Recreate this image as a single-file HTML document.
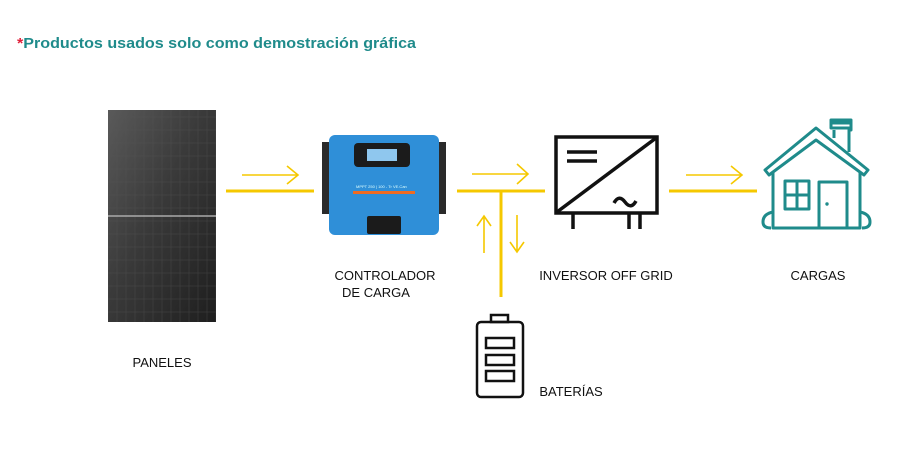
<!DOCTYPE html>
<html><head><meta charset="utf-8"><style>
html,body{margin:0;padding:0;background:#fff;}
svg{display:block;}
text{font-family:"Liberation Sans",sans-serif;}
</style></head><body>
<svg width="901" height="449" viewBox="0 0 901 449" xmlns="http://www.w3.org/2000/svg">
<text x="17" y="48" font-size="15" font-weight="bold" fill="#1f8b8b" textLength="399" lengthAdjust="spacingAndGlyphs"><tspan fill="#e0203a">*</tspan>Productos usados solo como demostración gráfica</text>

<!-- panel -->
<defs>
<linearGradient id="pg" x1="0" y1="0" x2="1" y2="1">
<stop offset="0" stop-color="#5a5a5a"/><stop offset="0.45" stop-color="#3a3a3a"/><stop offset="1" stop-color="#1e1e1e"/>
</linearGradient>
<pattern id="cells" width="9" height="13" patternUnits="userSpaceOnUse"><rect width="9" height="13" fill="none" stroke="#555" stroke-width="0.5"/></pattern>
</defs>
<rect x="108" y="110" width="108" height="212" fill="url(#pg)"/>
<rect x="108" y="110" width="108" height="212" fill="url(#cells)" opacity="0.6"/>
<line x1="108" y1="216" x2="216" y2="216" stroke="#aaa" stroke-width="1.5"/>

<g stroke="#f5c800" stroke-width="3" fill="none">
<line x1="226" y1="191" x2="314" y2="191"/>
<line x1="457" y1="191" x2="545" y2="191"/>
<line x1="669" y1="191" x2="757" y2="191"/>
<line x1="501" y1="191" x2="501" y2="297"/>
</g>
<g stroke="#f5c800" stroke-width="1.6" fill="none">
<path d="M242 175 H298 M287 166 L298 175 L287 184"/>
<path d="M472 174 H528 M517 164 L528 174 L517 184"/>
<path d="M686 175 H742 M731 166 L742 175 L731 184"/>
<path d="M484 253 V216 M477 226 L484 216 L491 226"/>
<path d="M517 215 V252 M510 242 L517 252 L524 242"/>
</g>

<!-- controller -->
<rect x="322" y="142" width="124" height="72" fill="#2a2a2a"/>
<rect x="329" y="135" width="110" height="100" rx="6" fill="#2f8fd8"/>
<rect x="354" y="143" width="56" height="24" rx="4" fill="#1b1b1b"/>
<rect x="367" y="149" width="30" height="12" fill="#8fc7ee"/>
<rect x="353" y="191" width="62" height="3" fill="#ef6b22"/>
<rect x="367" y="216" width="34" height="18" rx="2" fill="#1b1b1b"/>
<text x="356" y="188" font-size="4" fill="#dff">MPPT 250 | 100 - Tr VE.Can</text>

<!-- inverter -->
<g stroke="#111" stroke-width="3.5" fill="none">
<rect x="556" y="137" width="101" height="76"/>
<line x1="557" y1="212" x2="656" y2="138"/>
<line x1="567" y1="152" x2="597" y2="152"/>
<line x1="567" y1="161" x2="597" y2="161"/>
<path d="M614 203 q5 -9 11 -1 q6 8 11 -1"/>
<line x1="573" y1="213" x2="573" y2="229"/>
<line x1="629" y1="213" x2="629" y2="229"/>
<line x1="640" y1="213" x2="640" y2="229"/>
</g>

<!-- house -->
<g stroke="#1f8b8b" stroke-width="3" fill="none" stroke-linejoin="round">
<path d="M765 170 L816 128 L868 170 L864 175 L816 140 L769 175 Z"/>
<path d="M832 123 H851 V130 H849 V152 M834 130 V138"/>
<rect x="831" y="120" width="20" height="8"/>
<path d="M773 172 V228 H860 V172"/>
<rect x="785" y="181" width="24" height="28"/>
<line x1="797" y1="181" x2="797" y2="209"/><line x1="785" y1="195" x2="809" y2="195"/>
<rect x="819" y="182" width="28" height="46"/>
<path d="M773 212 q-10 2 -10 10 q0 6 8 6 M860 212 q10 2 10 10 q0 6 -8 6"/>
</g>
<circle cx="827" cy="204" r="1.7" fill="#1f8b8b"/>

<!-- battery -->
<g stroke="#111" stroke-width="2.5" fill="none">
<rect x="477" y="322" width="46" height="75" rx="4"/>
<rect x="491" y="315" width="17" height="7"/>
<rect x="486" y="338" width="28" height="10"/>
<rect x="486" y="355" width="28" height="10"/>
<rect x="486" y="371" width="28" height="10"/>
</g>

<g font-size="13" fill="#111" text-anchor="middle">
<text x="385" y="280">CONTROLADOR</text>
<text x="376" y="297">DE CARGA</text>
<text x="606" y="280">INVERSOR OFF GRID</text>
<text x="818" y="280">CARGAS</text>
<text x="162" y="367">PANELES</text>
<text x="571" y="396">BATERÍAS</text>
</g>
</svg>
</body></html>
